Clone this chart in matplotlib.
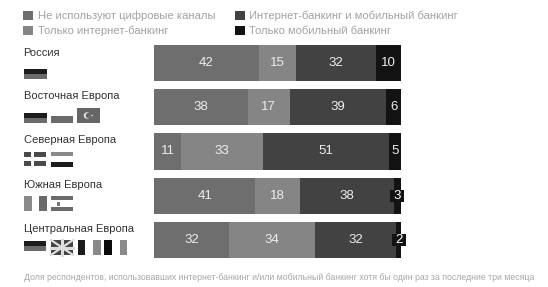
import matplotlib
matplotlib.use("Agg")
import matplotlib.pyplot as plt
from matplotlib.patches import Rectangle, Circle

plt.rcParams['font.family'] = ['Liberation Sans', 'DejaVu Sans']

regions = ["Россия", "Восточная Европа", "Северная Европа", "Южная Европа", "Центральная Европа"]
# printed labels
no_digital = [42, 38, 11, 41, 32]
internet_only = [15, 17, 33, 18, 34]
both = [32, 39, 51, 38, 32]
mobile_only = [10, 6, 5, 3, 2]
# segment lengths as drawn (the Central Europe bar differs slightly from its labels)
no_digital_len = [42, 38, 11, 41, 30.4]
internet_only_len = [15, 17, 33, 18, 34.8]
both_len = [32, 39, 51, 38, 32.8]
mobile_only_len = [10, 6, 5, 3, 2]
series = [no_digital, internet_only, both, mobile_only]
lengths = [no_digital_len, internet_only_len, both_len, mobile_only_len]
series_names = ["Не используют цифровые каналы", "Только интернет-банкинг",
                "Интернет-банкинг и мобильный банкинг", "Только мобильный банкинг"]
colors = ["#6e6e6e", "#858585", "#424242", "#131313"]
footnote = "Доля респондентов, использовавших интернет-банкинг и/или мобильный банкинг хотя бы один раз за последние три месяца"

W, H = 548, 287
fig = plt.figure(figsize=(W/100, H/100), dpi=100)
bg = fig.add_axes([0, 0, 1, 1])
bg.set_xlim(0, W); bg.set_ylim(H, 0); bg.axis("off")

# bars
top, bottom = 41.2, 261.8
ax = fig.add_axes([154/W, 1-bottom/H, 247/W, (bottom-top)/H])
ax.set_xlim(0, 100)
ax.set_ylim(4.5, -0.5)
ax.axis("off")
for i, r in enumerate(regions):
    total = sum(s[i] for s in lengths)
    left = 0
    for s, l, c in zip(series, lengths, colors):
        w = l[i]*100/total
        ax.barh(i, w, left=left, height=0.816, color=c, linewidth=0)
        cx = left + w/2
        if s[i] <= 3:
            ax.add_patch(Rectangle((cx-2.83, i-0.136), 5.67, 0.272, fc="#131313", ec="none",
                                   clip_on=False, zorder=4))
            ax.text(cx, i, str(s[i]), color="white", fontsize=9.5, ha="center", va="center",
                    clip_on=False, zorder=5)
        else:
            ax.text(cx, i, str(s[i]), color="#eeeeee", fontsize=9.5, ha="center", va="center")
        left += w

# legend
for x, y, c, t in [(23.3, 15.6, colors[0], series_names[0]), (23.3, 30.5, colors[1], series_names[1]),
                   (234.7, 15.6, colors[2], series_names[2]), (234.7, 30.5, colors[3], series_names[3])]:
    bg.add_patch(Rectangle((x, y-4.6), 10, 9.2, fc=c, ec="none"))
    bg.text(x+14.4, y+0.4, t, fontsize=8.15, color="#a2a2a2", va="center", ha="left")

# region labels
for y, r in zip([52.5, 96, 140, 184.5, 228.5], regions):
    bg.text(23.5, y, r, fontsize=8.0, color="#333333", va="center", ha="left")

bg.text(24, 277.6, footnote, fontsize=6.28, color="#a8a8a8", va="center", ha="left")

def rect(x, y, w, h, c):
    bg.add_patch(Rectangle((x, y), w, h, fc=c, ec="none"))

D, M, L = "#1c1c1c", "#6a6a6a", "#8a8a8a"
# Russia
rect(24, 69, 23, 5, D); rect(24, 74, 23, 4.5, M)
# Eastern Europe
rect(24, 113, 23, 5, D); rect(24, 118, 23, 5, M)
rect(51, 116, 22, 7, M)
rect(77, 108, 23, 15, "#666666")
bg.add_patch(Circle((87, 115.5), 3.2, fc="#eeeeee", ec="none"))
bg.add_patch(Circle((88.2, 115.5), 2.6, fc="#666666", ec="none"))
bg.add_patch(Circle((92, 115.5), 0.8, fc="#dddddd", ec="none"))
# Northern Europe
for x0, w0 in [(24, 7), (34, 12)]:
    rect(x0, 152, w0, 5, "#4a4a4a"); rect(x0, 161, w0, 5, "#4a4a4a")
rect(51, 152, 22, 4, L); rect(51, 162, 22, 5, D)
# Southern Europe
rect(24, 196, 7.5, 15, L); rect(39, 196, 8, 15, M)
rect(51, 196, 22, 4, M); rect(51, 207, 22, 4, M)
rect(57, 202, 3, 4, "#777777")
# Central Europe
rect(24, 241, 22, 5, D); rect(24, 246, 22, 5, M)
rect(51, 240, 22, 15, "#444444")
for seg in [((51, 240), (73, 255)), ((51, 255), (73, 240))]:
    bg.plot(*zip(*seg), color="#dddddd", lw=1.6)
bg.plot([62, 62], [240, 255], color="#dddddd", lw=2.2)
bg.plot([51, 73], [247.5, 247.5], color="#dddddd", lw=2.2)
rect(77.5, 240, 7, 15, D)
rect(92.5, 240, 8, 15, L)
rect(104, 240, 7.5, 15, "#0c0c0c")
rect(119.5, 240, 7.5, 15, L)
bg.set_xlim(0, W); bg.set_ylim(H, 0)

fig.savefig("out.png", dpi=100, facecolor="white")
